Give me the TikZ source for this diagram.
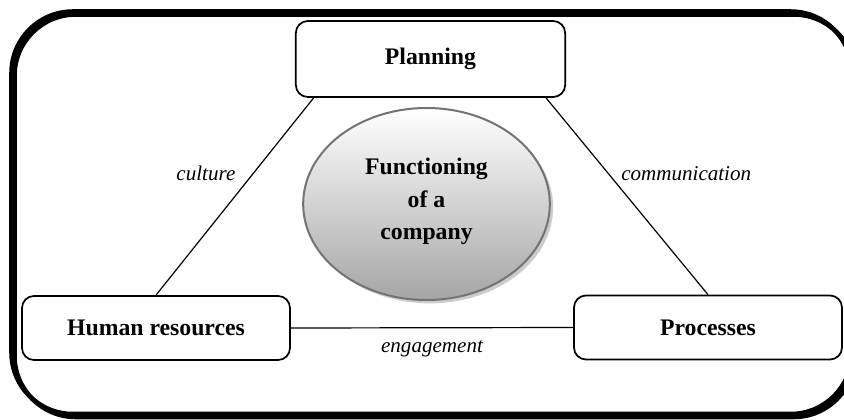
\documentclass[tikz,border=0pt]{standalone}
\usepackage{fontspec}
\setmainfont{Liberation Serif}
\usetikzlibrary{positioning,shapes.geometric,shadows}

\begin{document}
\begin{tikzpicture}[x=0.75pt,y=-0.75pt,font=\fontsize{17.8}{24.4}\selectfont\bfseries]
\tikzstyle{box}=[draw,line width=1.3pt,rounded corners=9pt,minimum width=201pt,minimum height=48pt,align=center,fill=white]
\tikzstyle{link}=[draw,line width=0.9pt]
\tikzstyle{tag}=[font=\fontsize{15.8}{18}\selectfont\itshape]
\useasboundingbox (0,0) rectangle (844,419);
% outer frame with its shadow
\draw[line width=3.4pt,rounded corners=46pt] (14.5,14.5) rectangle (855,417);
\draw[line width=3.4pt,rounded corners=46pt] (11.5,11.5) rectangle (852,414);
% boxes
\node[box,minimum width=202pt,minimum height=57pt] (plan) at (430.5,59) {Planning};
\node[box] (hr) at (156,328) {Human resources};
\node[box] (proc) at (708,327.5) {Processes};
\node[ellipse,draw=black!55,line width=1.5pt,minimum width=185pt,minimum height=144pt,inner sep=0pt,
  top color=white,bottom color=black!35,align=center,
  drop shadow={shadow xshift=2.5pt,shadow yshift=-2.5pt,fill=black!25,opacity=0.8}] (core) at (426.5,204)
  {Functioning\\ of a\\ company\\[-17pt]};
% connectors
\draw[link] (hr.north) -- node[tag,pos=0.62,left=10pt]{culture} ([xshift=14pt]plan.south west);
\draw[link] ([xshift=-15pt]plan.south east) -- node[tag,pos=0.384,right=6pt]{communication} (proc.north);
\draw[link] (hr.east) -- node[tag,below=6pt]{engagement} (proc.west);
\end{tikzpicture}
\end{document}
